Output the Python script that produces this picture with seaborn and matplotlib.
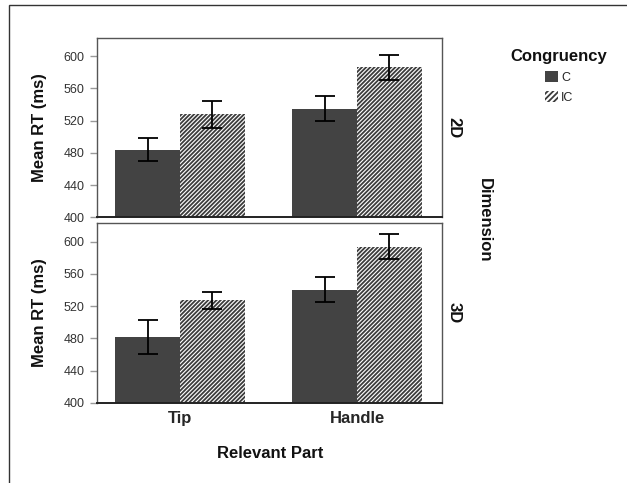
import matplotlib
matplotlib.use("Agg")
import matplotlib.pyplot as plt
import seaborn as sns
import pandas as pd
from matplotlib.patches import Rectangle, Patch

# ---- data ----
dimensions = ["2D", "3D"]
parts = ["Tip", "Handle"]
congruency = ["C", "IC"]
rt_2d_c = [484, 535]
rt_2d_ic = [528, 586]
rt_3d_c = [482, 540.5]
rt_3d_ic = [527, 594]
err_2d_c = [14.5, 15.3]
err_2d_ic = [17, 15.3]
err_3d_c = [21, 15.3]
err_3d_ic = [10.3, 16]
yticks = [400, 440, 480, 520, 560, 600]

rows = []
for d, c_vals, ic_vals in [("2D", rt_2d_c, rt_2d_ic), ("3D", rt_3d_c, rt_3d_ic)]:
    for p, cv, iv in zip(parts, c_vals, ic_vals):
        rows.append({"Dimension": d, "Part": p, "Congruency": "C", "RT": cv})
        rows.append({"Dimension": d, "Part": p, "Congruency": "IC", "RT": iv})
df = pd.DataFrame(rows)
errs = {"2D": [err_2d_c, err_2d_ic], "3D": [err_3d_c, err_3d_ic]}

sns.set_theme(style="white")
plt.rcParams["font.family"] = ["Liberation Sans", "DejaVu Sans"]
plt.rcParams["hatch.linewidth"] = 1.3
plt.rcParams["hatch.color"] = "#3c3c3c"

dark = "#434343"
hatch = "////////"
fig = plt.figure(figsize=(6.27, 4.83), dpi=100)
ax1 = fig.add_axes([0.1544, 0.550, 0.5506, 0.372])
ax2 = fig.add_axes([0.1544, 0.166, 0.5506, 0.372])

for ax, d in [(ax1, "2D"), (ax2, "3D")]:
    sub = df[df["Dimension"] == d]
    sns.barplot(data=sub, x="Part", y="RT", hue="Congruency", order=parts,
                hue_order=congruency, palette=[dark, "white"], errorbar=None,
                width=0.73, ax=ax, legend=False, saturation=1)
    bar_conts = list(ax.containers)
    for ci, cont in enumerate(bar_conts):
        for bj, bar in enumerate(cont):
            bar.set_linewidth(0)
            if ci == 1:
                bar.set_facecolor("white")
                bar.set_edgecolor("#3c3c3c")
                bar.set_hatch(hatch)
            else:
                bar.set_facecolor(dark)
                bar.set_edgecolor(dark)
            xc = bar.get_x() + bar.get_width() / 2
            ax.errorbar(xc, bar.get_height(), yerr=errs[d][ci][bj], color="black",
                        capsize=7.5, elinewidth=1.3, capthick=1.3, zorder=5)
    ax.set_ylim(400, 623)
    ax.set_xlim(-0.47, 1.48)
    ax.set_yticks(yticks)
    ax.tick_params(axis="y", left=True, length=5, width=1, color="#999999",
                   labelsize=9, labelcolor="#333333", pad=3.6)
    ax.tick_params(axis="x", bottom=False, length=0, labelsize=12, pad=6)
    for lab in ax.get_xticklabels():
        lab.set_fontweight("bold")
    for s in ["top", "right", "left"]:
        ax.spines[s].set_color("#555555")
        ax.spines[s].set_linewidth(1)
    ax.spines["bottom"].set_color("#222222")
    ax.spines["bottom"].set_linewidth(1.4)
    ax.set_ylabel("Mean RT (ms)", fontsize=12, fontweight="bold", color="#111111")
    ax.yaxis.set_label_coords(-0.144, 0.5)
    ax.text(1.035, 0.5, d, transform=ax.transAxes, rotation=270, ha="center",
            va="center", fontsize=12, fontweight="bold", color="#111111")

ax1.set_xlabel("")
ax1.set_xticklabels([])
ax2.set_xlabel("Relevant Part", fontsize=12, fontweight="bold", color="#111111")
ax2.xaxis.set_label_coords(0.502, -0.241)

fig.text(484 / 627, 1 - 220 / 483, "Dimension", rotation=270, ha="center", va="center",
         fontsize=12, fontweight="bold", color="#111111")

handles = [Patch(facecolor=dark, edgecolor=dark, linewidth=0),
           Patch(facecolor="white", edgecolor="#3c3c3c", hatch="//////", linewidth=0)]
leg = fig.legend(handles, congruency, title="Congruency", loc="upper center",
                 bbox_to_anchor=(559 / 627, 1 - 49 / 483), frameon=False,
                 fontsize=9, handlelength=1.05, handleheight=0.9, handletextpad=0.25,
                 labelspacing=0.59, borderaxespad=0, borderpad=0)
leg.get_title().set_fontsize(12)
leg.get_title().set_fontweight("bold")
leg.get_title().set_color("#111111")

fig.add_artist(Rectangle((9 / 627, -0.2), 1.5, 1 - 5 / 483 + 0.2,
                         transform=fig.transFigure, fill=False,
                         edgecolor="#333333", linewidth=1))

fig.savefig("out.png", dpi=100, facecolor="white")
